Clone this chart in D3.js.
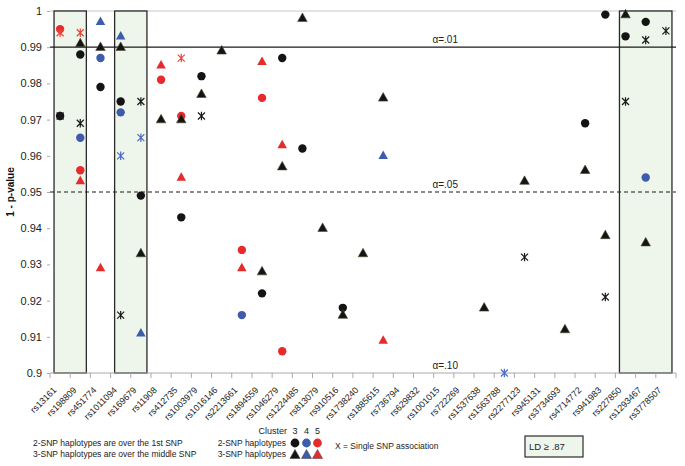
<!DOCTYPE html>
<html><head><meta charset="utf-8">
<script src="https://cdn.jsdelivr.net/npm/d3@7"></script>
<style>body{margin:0;background:#fff;font-family:"Liberation Sans",Arial,sans-serif}
#wrap{position:relative;width:685px;height:466px}
.xl{position:absolute;font-size:9px;color:#222;white-space:nowrap;line-height:1;transform-origin:100% 100%;transform:rotate(-45deg)}
</style>
</head><body><div id="wrap"><svg id="c" width="685" height="466"></svg></div>
<script>
const snps = ["rs13161","rs198809","rs451774","rs1011094","rs169679","rs11908","rs412735","rs1003979","rs1016146","rs2213661","rs1894559","rs1046279","rs1224485","rs813079","rs910516","rs1738240","rs1885615","rs736794","rs629832","rs1001015","rs722269","rs1537638","rs1563788","rs2277123","rs945131","rs3734693","rs4714772","rs941983","rs227850","rs1293467","rs3778507"];
const yTicks = [0.9,0.91,0.92,0.93,0.94,0.95,0.96,0.97,0.98,0.99,1];
const alphaLines = [{v:0.99,label:"α=.01",dash:false},{v:0.95,label:"α=.05",dash:true},{v:0.9,label:"α=.10",dash:null}];
const ldBoxes = [["rs13161","rs198809"],["rs1011094","rs169679"],["rs227850","rs3778507"]];

// 2-SNP haplotypes (circles)
const circ3 = [["rs13161",0.971],["rs198809",0.988],["rs451774",0.979],["rs1011094",0.975],["rs169679",0.949],["rs412735",0.943],["rs1003979",0.982],["rs1894559",0.922],["rs1046279",0.987],["rs1224485",0.962],["rs910516",0.918],["rs4714772",0.969],["rs941983",0.999],["rs227850",0.993],["rs1293467",0.997]];
const circ4 = [["rs198809",0.965],["rs451774",0.987],["rs1011094",0.972],["rs2213661",0.916],["rs1293467",0.954]];
const circ5 = [["rs13161",0.995],["rs198809",0.956],["rs11908",0.981],["rs412735",0.971],["rs2213661",0.934],["rs1894559",0.976],["rs1046279",0.906]];
// 3-SNP haplotypes (triangles)
const tri3 = [["rs198809",0.991],["rs451774",0.990],["rs1011094",0.990],["rs169679",0.933],["rs11908",0.970],["rs412735",0.970],["rs1003979",0.977],["rs1016146",0.989],["rs1894559",0.928],["rs1046279",0.957],["rs1224485",0.998],["rs813079",0.940],["rs910516",0.916],["rs1738240",0.933],["rs1885615",0.976],["rs1537638",0.918],["rs2277123",0.953],["rs3734693",0.912],["rs4714772",0.956],["rs941983",0.938],["rs227850",0.999],["rs1293467",0.936]];
const tri4 = [["rs451774",0.997],["rs1011094",0.993],["rs169679",0.911],["rs1885615",0.960]];
const tri5 = [["rs198809",0.953],["rs451774",0.929],["rs11908",0.985],["rs412735",0.954],["rs2213661",0.929],["rs1894559",0.986],["rs1046279",0.963],["rs1885615",0.909]];
// single SNP association (asterisks)
const star3 = [["rs13161",0.971],["rs198809",0.969],["rs1011094",0.916],["rs169679",0.975],["rs1003979",0.971],["rs2277123",0.932],["rs941983",0.921],["rs227850",0.975],["rs1293467",0.992],["rs3778507",0.9945]];
const star4 = [["rs1011094",0.960],["rs169679",0.965],["rs1563788",0.900]];
const star5 = [["rs13161",0.994],["rs198809",0.994],["rs412735",0.987]];

const colors = {3:"#141414",4:"#3d5cab",5:"#e52b2b"};
const starColors = {3:"#1a1a1a",4:"#4a6cc8",5:"#e8453a"};

const svg = d3.select("#c");
const L=50,R=676,T=11,B=373;
const x = d3.scaleBand().domain(snps).range([L,R]);
const y = d3.scaleLinear().domain([0.9,1]).range([B,T]);
const cx = s => x(s)+x.bandwidth()/2;

// top gridline
svg.append("line").attr("x1",L).attr("x2",R).attr("y1",y(1)).attr("y2",y(1)).attr("stroke","#c8c8c8").attr("stroke-width",1);

// LD boxes
ldBoxes.forEach(([a,b])=>{
  const x0=Math.max(L,cx(a)-0.3*x.bandwidth()), x1=Math.min(R,cx(b)+0.3*x.bandwidth());
  svg.append("rect").attr("x",x0).attr("y",y(1)).attr("width",x1-x0).attr("height",y(0.9)-y(1))
    .attr("fill","#eef5ea").attr("stroke","#2a2a2a").attr("stroke-width",1.3);
});

// y axis
const ya = svg.append("g").attr("transform",`translate(${L},0)`).call(d3.axisLeft(y).tickValues(yTicks).tickSize(3).tickFormat(d=>d===1?"1":d3.format(".2f")(d).replace(/0$/,"")));
ya.select(".domain").remove();
ya.selectAll("line").attr("stroke","#aaa");
ya.selectAll("text").attr("font-size",11).attr("fill","#222").attr("font-family","Liberation Sans, Arial").attr("dx",-2);

// x axis
const xa = svg.append("g");
xa.append("line").attr("x1",L).attr("x2",R).attr("y1",B).attr("y2",B).attr("stroke","#aaa");
snps.concat([null]).forEach(s=>{
  const xx = s? x(s) : R;
  xa.append("line").attr("x1",xx).attr("x2",xx).attr("y1",B).attr("y2",B+5).attr("stroke","#aaa");
});
// rotated labels as HTML (anchor: end of text near tick centre)
d3.select("#wrap").selectAll("div.xl").data(snps).join("div").attr("class","xl")
  .style("right",d=>(685-(cx(d)-2))+"px").style("bottom",d=>(466-(B+19))+"px").text(d=>d);

// alpha lines
alphaLines.forEach(a=>{
  if(a.dash!==null){
    svg.append("line").attr("x1",L).attr("x2",R).attr("y1",y(a.v)).attr("y2",y(a.v))
      .attr("stroke","#1a1a1a").attr("stroke-width",a.dash?1:1.2).attr("stroke-dasharray",a.dash?"4,3":null);
  }
  svg.append("text").attr("x",458).attr("y",y(a.v)-4).attr("text-anchor","end").attr("font-size",10).attr("fill","#222").text(a.label);
});

// y label
svg.append("text").attr("x",14).attr("y",192).attr("transform","rotate(-90 14 192)").attr("text-anchor","middle").attr("font-size",10).attr("font-weight","bold").attr("fill","#111").text("1 - p-value");

// markers
const triPath = (h)=>`M0,${-h*0.62}L${h*0.56},${h*0.38}L${-h*0.56},${h*0.38}Z`;
const starPath = (s)=>`M${-s},${-s}L${s},${s}M${-s},${s}L${s},${-s}M0,${-s*1.2}L0,${s*1.2}`;
function circles(data,c){
  svg.append("g").selectAll("circle").data(data).join("circle")
    .attr("cx",d=>cx(d[0])).attr("cy",d=>y(d[1])).attr("r",4.2).attr("fill",colors[c]);
}
function tris(data,c){
  svg.append("g").selectAll("path").data(data).join("path")
    .attr("transform",d=>`translate(${cx(d[0])},${y(d[1])})`).attr("d",triPath(8.5))
    .attr("fill",colors[c]).attr("stroke",c===3?"#4a4a30":"none").attr("stroke-width",0.6);
}
function stars(data,c){
  svg.append("g").selectAll("path").data(data).join("path")
    .attr("transform",d=>`translate(${cx(d[0])},${y(d[1])})`).attr("d",starPath(3.5))
    .attr("fill","none").attr("stroke",starColors[c]).attr("stroke-width",1.2);
}
circles(circ3,3);circles(circ4,4);circles(circ5,5);
tris(tri3,3);tris(tri4,4);tris(tri5,5);
stars(star3,3);stars(star4,4);stars(star5,5);

// legend
const lg = svg.append("g").attr("font-size",8.5).attr("fill","#222");
lg.append("text").attr("x",33).attr("y",446).text("2-SNP haplotypes are over the 1st SNP");
lg.append("text").attr("x",33).attr("y",457).text("3-SNP haplotypes are over the middle SNP");
lg.append("text").attr("x",287).attr("y",434).attr("text-anchor","end").attr("font-size",9).text("Cluster");
lg.append("text").attr("x",286).attr("y",446).attr("text-anchor","end").text("2-SNP haplotypes");
lg.append("text").attr("x",286).attr("y",457).attr("text-anchor","end").text("3-SNP haplotypes");
const lx = [295,306.5,317.5];
[3,4,5].forEach((c,i)=>{
  lg.append("text").attr("x",lx[i]).attr("y",434).attr("text-anchor","middle").attr("font-size",9).text(c);
  lg.append("circle").attr("cx",lx[i]).attr("cy",443).attr("r",4.4).attr("fill",colors[c]);
  lg.append("path").attr("transform",`translate(${lx[i]},${455})`).attr("d",triPath(9)).attr("fill",colors[c]).attr("stroke","#333").attr("stroke-width",0.5);
});
lg.append("text").attr("x",335).attr("y",449).text("X = Single SNP association");
svg.append("rect").attr("x",525).attr("y",436).attr("width",58).attr("height",21).attr("fill","#eef5ea").attr("stroke","#2a2a2a").attr("stroke-width",1.2);
svg.append("text").attr("x",529).attr("y",450).attr("font-size",9.5).attr("fill","#222").text("LD ≥ .87");
</script></body></html>
